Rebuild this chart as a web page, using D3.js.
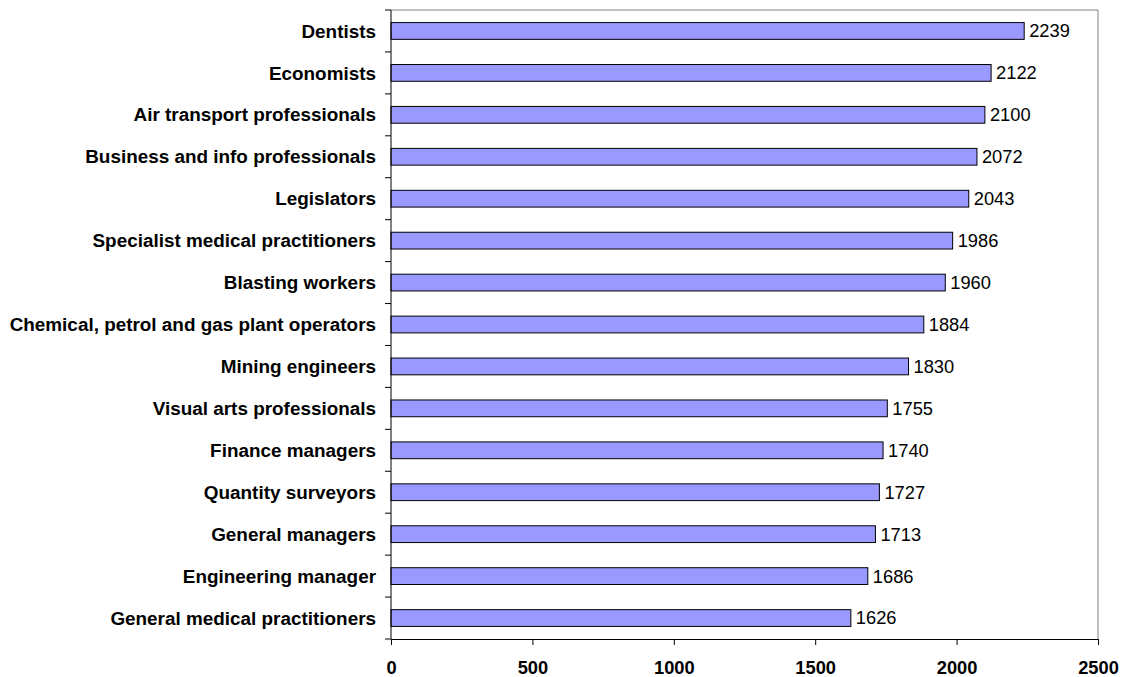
<!DOCTYPE html>
<html>
<head>
<meta charset="utf-8">
<script src="https://cdn.jsdelivr.net/npm/d3@7"></script>
<style>
  body { margin: 0; background: #fff; }
  text { font-family: "Liberation Sans", Arial, sans-serif; }
</style>
</head>
<body>
<svg id="chart" width="1123" height="677"></svg>
<script>
const occupations = [
  'Dentists', 'Economists', 'Air transport professionals',
  'Business and info professionals', 'Legislators',
  'Specialist medical practitioners', 'Blasting workers',
  'Chemical, petrol and gas plant operators', 'Mining engineers',
  'Visual arts professionals', 'Finance managers', 'Quantity surveyors',
  'General managers', 'Engineering manager', 'General medical practitioners'
];
const earnings = [2239, 2122, 2100, 2072, 2043, 1986, 1960, 1884, 1830, 1755, 1740, 1727, 1713, 1686, 1626];
const xTicks = [0, 500, 1000, 1500, 2000, 2500];

const margin = { top: 10, right: 25, bottom: 38, left: 391 };
const width = 1123 - margin.left - margin.right;
const height = 677 - margin.top - margin.bottom;

const svg = d3.select('#chart')
  .append('g')
  .attr('transform', `translate(${margin.left},${margin.top})`);

const x = d3.scaleLinear().domain([0, 2500]).range([0, width]);
const y = d3.scaleBand().domain(occupations).range([0, height]).paddingInner(0.6).paddingOuter(0.3);

// frame (top and right in grey)
svg.append('path')
  .attr('d', `M0,0H${width}V${height}`)
  .attr('fill', 'none')
  .attr('stroke', '#808080');

// bars
svg.selectAll('rect.bar')
  .data(occupations)
  .enter().append('rect')
  .attr('class', 'bar')
  .attr('x', x(0))
  .attr('y', d => y(d))
  .attr('width', (d, i) => x(earnings[i]) - x(0))
  .attr('height', y.bandwidth())
  .attr('fill', '#9999ff')
  .attr('stroke', '#000')
  .attr('stroke-width', 1);

// value labels
svg.selectAll('text.value')
  .data(occupations)
  .enter().append('text')
  .attr('class', 'value')
  .attr('x', (d, i) => x(earnings[i]) + 5)
  .attr('y', d => y(d) + y.bandwidth() / 2)
  .attr('dy', '0.35em')
  .attr('font-size', 18.3)
  .text((d, i) => earnings[i]);

// y axis: ticks between categories
const step = height / occupations.length;
const yAxis = svg.append('g');
yAxis.append('line')
  .attr('x1', 0).attr('x2', 0).attr('y1', 0).attr('y2', height)
  .attr('stroke', '#000');
yAxis.selectAll('line.tick')
  .data(d3.range(occupations.length + 1))
  .enter().append('line')
  .attr('class', 'tick')
  .attr('x1', -6).attr('x2', 0)
  .attr('y1', d => d * step).attr('y2', d => d * step)
  .attr('stroke', '#000');
yAxis.selectAll('text')
  .data(occupations)
  .enter().append('text')
  .attr('x', -15)
  .attr('y', d => y(d) + y.bandwidth() / 2)
  .attr('dy', '0.35em')
  .attr('text-anchor', 'end')
  .attr('font-size', 18.9)
  .attr('font-weight', 'bold')
  .text(d => d);

// x axis
const xAxis = svg.append('g')
  .attr('transform', `translate(0,${height})`)
  .call(d3.axisBottom(x).tickValues(xTicks).tickFormat(d3.format('d'))
    .tickSize(6).tickSizeOuter(0).tickPadding(16));
xAxis.select('.domain').attr('stroke', '#000');
xAxis.selectAll('.tick line').attr('stroke', '#000');
xAxis.selectAll('.tick text')
  .attr('font-size', 18.3)
  .attr('font-weight', 'bold')
  .attr('font-family', '"Liberation Sans", Arial, sans-serif')
  .attr('fill', '#000');
</script>
</body>
</html>
